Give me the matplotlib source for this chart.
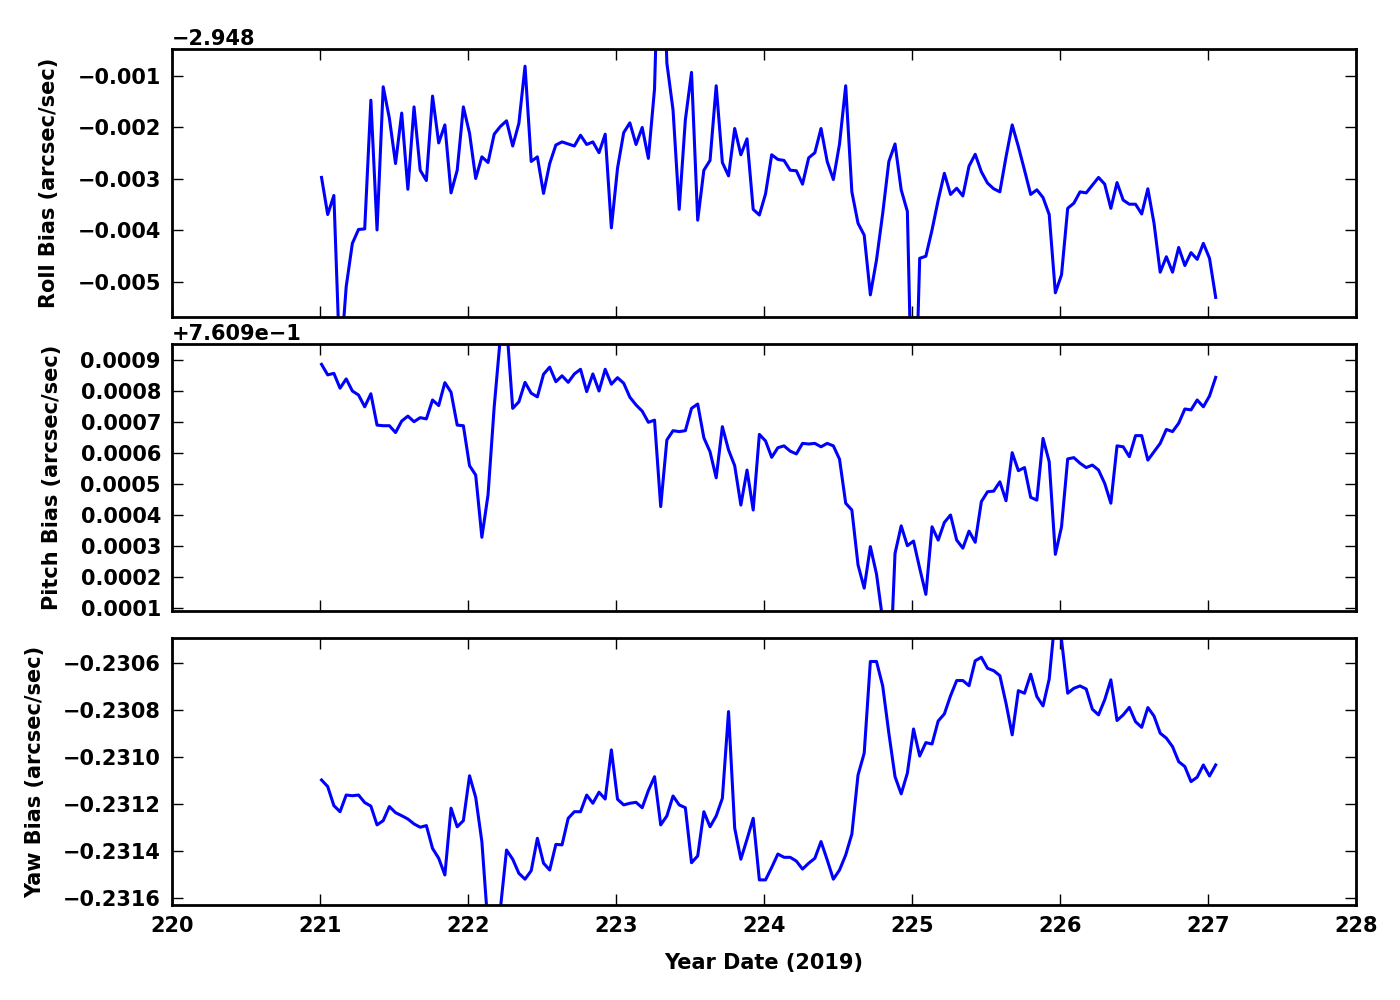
import numpy as np
import matplotlib
matplotlib.use("Agg")
import matplotlib.pyplot as plt
from matplotlib.ticker import ScalarFormatter

# ---------------- data (hourly samples, day-of-year 2019) ----------------
t_start = 221.01
t_step = 1.0 / 24.0

roll_offset = -2.948
roll_rel = [
    -0.00297, -0.00369, -0.00332, -0.00670, -0.00509, -0.00425, -0.00398, -0.00397, -0.00147, -0.00399,
    -0.00121, -0.00182, -0.00270, -0.00172, -0.00320, -0.00160, -0.00283, -0.00303, -0.00139, -0.00230,
    -0.00195, -0.00327, -0.00283, -0.00160, -0.00211, -0.00299, -0.00257, -0.00268, -0.00213, -0.00198,
    -0.00187, -0.00236, -0.00192, -0.00081, -0.00266, -0.00257, -0.00328, -0.00270, -0.00234, -0.00228,
    -0.00232, -0.00236, -0.00215, -0.00233, -0.00228, -0.00249, -0.00213, -0.00395, -0.00279, -0.00210,
    -0.00191, -0.00233, -0.00200, -0.00260, -0.00125, 0.00300, -0.00075, -0.00166, -0.00359, -0.00185,
    -0.00093, -0.00380, -0.00283, -0.00264, -0.00119, -0.00268, -0.00294, -0.00202, -0.00253, -0.00222,
    -0.00359, -0.00370, -0.00329, -0.00253, -0.00262, -0.00264, -0.00283, -0.00284, -0.00310, -0.00259,
    -0.00249, -0.00202, -0.00266, -0.00301, -0.00232, -0.00119, -0.00325, -0.00386, -0.00409, -0.00525,
    -0.00457, -0.00367, -0.00266, -0.00232, -0.00321, -0.00363, -0.00880, -0.00454, -0.00450, -0.00399,
    -0.00341, -0.00289, -0.00330, -0.00318, -0.00333, -0.00275, -0.00252, -0.00286, -0.00308, -0.00319,
    -0.00325, -0.00257, -0.00195, -0.00237, -0.00283, -0.00330, -0.00321, -0.00336, -0.00369, -0.00521,
    -0.00486, -0.00357, -0.00347, -0.00325, -0.00327, -0.00312, -0.00297, -0.00310, -0.00357, -0.00307,
    -0.00341, -0.00349, -0.00349, -0.00368, -0.00319, -0.00386, -0.00481, -0.00451, -0.00481, -0.00433,
    -0.00468, -0.00443, -0.00456, -0.00425, -0.00454, -0.00530,
]

pitch_offset = 0.7609
pitch_rel = [
    0.000886, 0.000852, 0.000857, 0.000809, 0.000839, 0.000800, 0.000787, 0.000749, 0.000791, 0.000690,
    0.000688, 0.000688, 0.000666, 0.000703, 0.000719, 0.000701, 0.000714, 0.000710, 0.000771, 0.000753,
    0.000827, 0.000796, 0.000690, 0.000688, 0.000559, 0.000529, 0.000328, 0.000465, 0.000749, 0.000974,
    0.001016, 0.000744, 0.000765, 0.000828, 0.000793, 0.000781, 0.000854, 0.000877, 0.000830, 0.000849,
    0.000828, 0.000855, 0.000870, 0.000798, 0.000855, 0.000800, 0.000870, 0.000822, 0.000843, 0.000825,
    0.000780, 0.000755, 0.000735, 0.000699, 0.000706, 0.000427, 0.000642, 0.000672, 0.000669, 0.000672,
    0.000744, 0.000758, 0.000649, 0.000604, 0.000520, 0.000685, 0.000610, 0.000559, 0.000432, 0.000545,
    0.000416, 0.000660, 0.000639, 0.000586, 0.000617, 0.000623, 0.000606, 0.000597, 0.000631, 0.000629,
    0.000631, 0.000620, 0.000631, 0.000623, 0.000580, 0.000438, 0.000416, 0.000239, 0.000164, 0.000298,
    0.000209, 0.000061, -0.000200, 0.000276, 0.000365, 0.000301, 0.000316, 0.000228, 0.000144, 0.000362,
    0.000319, 0.000376, 0.000400, 0.000319, 0.000293, 0.000348, 0.000312, 0.000443, 0.000475, 0.000477,
    0.000507, 0.000446, 0.000601, 0.000543, 0.000553, 0.000457, 0.000448, 0.000647, 0.000572, 0.000273,
    0.000362, 0.000581, 0.000585, 0.000567, 0.000553, 0.000561, 0.000545, 0.000502, 0.000438, 0.000623,
    0.000620, 0.000588, 0.000656, 0.000656, 0.000577, 0.000604, 0.000631, 0.000676, 0.000669, 0.000696,
    0.000742, 0.000739, 0.000771, 0.000749, 0.000784, 0.000844,
]

yaw = [
    -0.231098, -0.231126, -0.231207, -0.231233, -0.231162, -0.231165, -0.231162, -0.231194, -0.231209, -0.231289,
    -0.231271, -0.231211, -0.231237, -0.231250, -0.231264, -0.231285, -0.231299, -0.231292, -0.231389, -0.231431,
    -0.231502, -0.231218, -0.231297, -0.231271, -0.231080, -0.231172, -0.231360, -0.231723, -0.231821, -0.231647,
    -0.231396, -0.231435, -0.231495, -0.231520, -0.231484, -0.231346, -0.231452, -0.231481, -0.231372, -0.231374,
    -0.231261, -0.231233, -0.231233, -0.231162, -0.231197, -0.231150, -0.231179, -0.230970, -0.231180, -0.231204,
    -0.231197, -0.231193, -0.231216, -0.231143, -0.231084, -0.231289, -0.231251, -0.231166, -0.231204, -0.231216,
    -0.231450, -0.231421, -0.231233, -0.231297, -0.231251, -0.231176, -0.230807, -0.231303, -0.231435, -0.231350,
    -0.231261, -0.231523, -0.231523, -0.231470, -0.231413, -0.231427, -0.231427, -0.231443, -0.231477, -0.231452,
    -0.231431, -0.231360, -0.231438, -0.231520, -0.231481, -0.231417, -0.231328, -0.231077, -0.230984, -0.230594,
    -0.230594, -0.230698, -0.230899, -0.231084, -0.231157, -0.231069, -0.230881, -0.230996, -0.230939, -0.230945,
    -0.230847, -0.230817, -0.230740, -0.230675, -0.230675, -0.230697, -0.230591, -0.230576, -0.230623, -0.230633,
    -0.230654, -0.230772, -0.230906, -0.230718, -0.230729, -0.230648, -0.230743, -0.230783, -0.230669, -0.230396,
    -0.230502, -0.230729, -0.230708, -0.230698, -0.230711, -0.230797, -0.230821, -0.230757, -0.230672, -0.230845,
    -0.230821, -0.230789, -0.230850, -0.230874, -0.230790, -0.230826, -0.230899, -0.230920, -0.230956, -0.231020,
    -0.231041, -0.231105, -0.231086, -0.231034, -0.231081, -0.231034,
]

x_ticks = [220, 221, 222, 223, 224, 225, 226, 227, 228]
roll_ticks_rel = [-0.005, -0.004, -0.003, -0.002, -0.001]
pitch_ticks_rel = [0.0001, 0.0002, 0.0003, 0.0004, 0.0005, 0.0006, 0.0007, 0.0008, 0.0009]
yaw_ticks = [-0.2316, -0.2314, -0.2312, -0.2310, -0.2308, -0.2306]

n = len(yaw)
t = t_start + np.arange(n) * t_step
roll = roll_offset + np.array(roll_rel)
pitch = pitch_offset + np.array(pitch_rel)
yaw = np.array(yaw)

# ---------------- style ----------------
plt.rcParams['font.family'] = ['DejaVu Sans']
plt.rcParams['font.weight'] = 'bold'
plt.rcParams['font.size'] = 15
plt.rcParams['axes.labelweight'] = 'bold'
plt.rcParams['xtick.direction'] = 'in'
plt.rcParams['ytick.direction'] = 'in'
plt.rcParams['xtick.top'] = True
plt.rcParams['ytick.right'] = True
plt.rcParams['xtick.major.size'] = 8
plt.rcParams['ytick.major.size'] = 8
plt.rcParams['xtick.major.width'] = 1.0
plt.rcParams['ytick.major.width'] = 1.0
plt.rcParams['xtick.major.pad'] = 8
plt.rcParams['ytick.major.pad'] = 8
plt.rcParams['axes.linewidth'] = 2.0

fig = plt.figure(figsize=(14, 10), dpi=100)
left, width = 0.1229, 0.8457
ax1 = fig.add_axes([left, 0.683, width, 0.268])
ax2 = fig.add_axes([left, 0.389, width, 0.267], sharex=ax1)
ax3 = fig.add_axes([left, 0.095, width, 0.267], sharex=ax1)

ax1.plot(t, roll, color='blue', lw=2.2)
ax2.plot(t, pitch, color='blue', lw=2.2)
ax3.plot(t, yaw, color='blue', lw=2.2)

ax1.set_xlim(220, 228)
ax1.set_xticks(x_ticks)

# Roll
f1 = ScalarFormatter(useOffset=roll_offset)
f1.set_scientific(False)
ax1.yaxis.set_major_formatter(f1)
ax1.set_yticks([roll_offset + v for v in roll_ticks_rel])
ax1.set_ylim(roll_offset - 0.00568, roll_offset - 0.000476)
ax1.set_ylabel('Roll Bias (arcsec/sec)', labelpad=13)

# Pitch
f2 = ScalarFormatter(useOffset=pitch_offset)
f2.set_scientific(False)
ax2.yaxis.set_major_formatter(f2)
ax2.set_yticks([pitch_offset + v for v in pitch_ticks_rel])
ax2.set_ylim(pitch_offset + 0.0000903, pitch_offset + 0.0009516)
ax2.set_ylabel('Pitch Bias (arcsec/sec)', labelpad=13)

# Yaw
f3 = ScalarFormatter(useOffset=False)
f3.set_scientific(False)
ax3.yaxis.set_major_formatter(f3)
ax3.set_yticks(yaw_ticks)
ax3.set_ylim(-0.2316298, -0.230494)
ax3.set_ylabel('Yaw Bias (arcsec/sec)', labelpad=13)
ax3.set_xlabel('Year Date (2019)', labelpad=12)

for ax in (ax1, ax2):
    ax.tick_params(labelbottom=False)
for ax in (ax1, ax2, ax3):
    ax.yaxis.get_offset_text().set_fontweight('bold')
    ax.yaxis.get_offset_text().set_fontsize(15)
    for lab in ax.get_xticklabels() + ax.get_yticklabels():
        lab.set_fontweight('bold')

fig.canvas.draw()
for ax in (ax1, ax2):
    ot = ax.yaxis.get_offset_text()
    x0, y0 = ot.get_position()
    ot.set_y(y0 + 0.012)

fig.savefig('out.png', dpi=100, facecolor='white')
